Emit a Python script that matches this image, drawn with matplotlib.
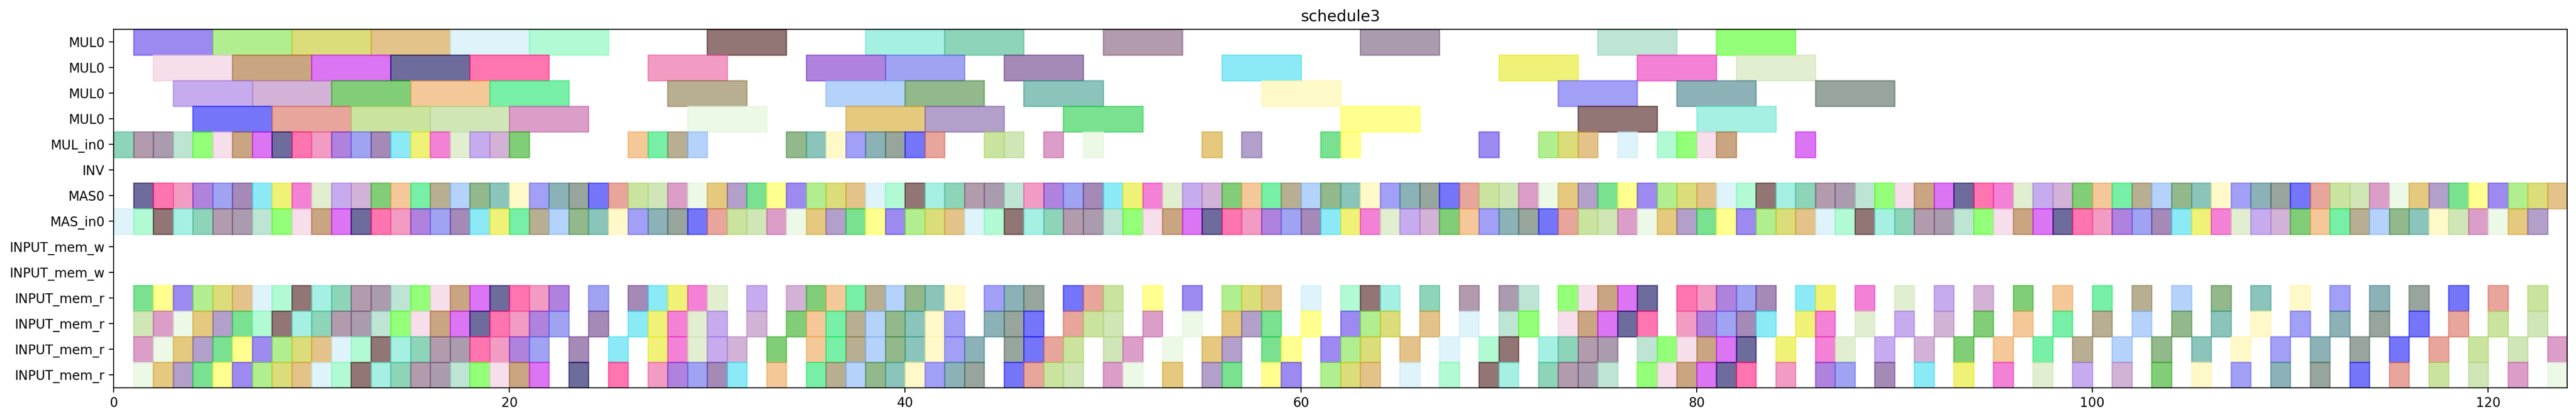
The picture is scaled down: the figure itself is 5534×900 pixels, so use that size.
import matplotlib
matplotlib.use("Agg")
import matplotlib.pyplot as plt

# ---------------------------------------------------------------------------
# Schedule data: start slot of every operation, per resource row
# ---------------------------------------------------------------------------
ROW_LABELS = ["MUL0", "MUL0", "MUL0", "MUL0", "MUL_in0", "INV", "MAS0", "MAS_in0",
              "INPUT_mem_w", "INPUT_mem_w",
              "INPUT_mem_r", "INPUT_mem_r", "INPUT_mem_r", "INPUT_mem_r"]

MUL0_A = [1, 5, 9, 13, 17, 21, 30, 38, 42, 50, 63, 75, 81]
MUL0_B = [2, 6, 10, 14, 18, 27, 35, 39, 45, 56, 70, 77, 82]
MUL0_C = [3, 7, 11, 15, 19, 28, 36, 40, 46, 58, 73, 79, 86]
MUL0_D = [4, 8, 12, 16, 20, 29, 37, 41, 48, 62, 74, 80]

MUL_IN0 = [0, 1, 2, 3, 4, 5, 6, 7, 8, 9, 10, 11, 12, 13, 14, 15, 16, 17, 18, 19, 20,
           26, 27, 28, 29, 34, 35, 36, 37, 38, 39, 40, 41, 44, 45, 47, 49, 55, 57,
           61, 62, 69, 72, 73, 74, 76, 78, 79, 80, 81, 85]

INV = []

MAS0 = [1, 2, 3, 4, 5, 6, 7, 8, 9, 10, 11, 12, 13, 14, 15, 16, 17, 18, 19, 20,
        21, 22, 23, 24, 25, 26, 27, 28, 29, 30, 31, 32, 33, 34, 35, 36, 37, 38, 39, 40,
        41, 42, 43, 44, 45, 46, 47, 48, 49, 50, 51, 52, 53, 54, 55, 56, 57, 58, 59, 60,
        61, 62, 63, 64, 65, 66, 67, 68, 69, 70, 71, 72, 73, 74, 75, 76, 77, 78, 79, 80,
        81, 82, 83, 84, 85, 86, 87, 88, 89, 90, 91, 92, 93, 94, 95, 96, 97, 98, 99, 100,
        101, 102, 103, 104, 105, 106, 107, 108, 109, 110, 111, 112, 113, 114, 115, 116,
        117, 118, 119, 120, 121, 122, 123]

MAS_IN0 = [0, 1, 2, 3, 4, 5, 6, 7, 8, 9, 10, 11, 12, 13, 14, 15, 16, 17, 18, 19,
           20, 21, 22, 23, 24, 25, 26, 27, 28, 29, 30, 31, 32, 33, 34, 35, 36, 37, 38, 39,
           40, 41, 42, 43, 44, 45, 46, 47, 48, 49, 50, 51, 52, 53, 54, 55, 56, 57, 58, 59,
           60, 61, 62, 63, 64, 65, 66, 67, 68, 69, 70, 71, 72, 73, 74, 75, 76, 77, 78, 79,
           80, 81, 82, 83, 84, 85, 86, 87, 88, 89, 90, 91, 92, 93, 94, 95, 96, 97, 98, 99,
           100, 101, 102, 103, 104, 105, 106, 107, 108, 109, 110, 111, 112, 113, 114, 115,
           116, 117, 118, 119, 120, 121, 122]

MEM_W_A = []
MEM_W_B = []

MEM_R_A = [1, 2, 3, 4, 5, 6, 7, 8, 9, 10, 11, 12, 13, 14, 15, 16, 17, 18, 19, 20, 21, 22,
           24, 26, 27, 28, 29, 30, 32, 34, 35, 36, 37, 38, 39, 40, 41, 42, 44, 45, 46,
           48, 49, 50, 52, 54, 56, 57, 58, 60, 62, 63, 64, 66, 68, 70, 71,
           73, 74, 75, 76, 77, 79, 80, 81, 82, 83, 85, 86, 88, 90, 92, 94, 96, 98,
           100, 102, 104, 106, 108, 110, 112, 114, 116, 118, 120, 122]
MEM_R_B = [1, 2, 3, 4, 5, 6, 7, 8, 9, 10, 11, 12, 13, 14, 15, 16, 17, 18, 19, 20, 21, 22,
           24, 26, 27, 28, 29, 30, 32, 34, 35, 36, 37, 38, 39, 40, 41, 42, 44, 45, 46,
           48, 49, 50, 52, 54, 56, 57, 58, 60, 62, 63, 64, 66, 68, 70, 71,
           73, 74, 75, 76, 77, 79, 80, 81, 82, 83, 85, 86, 88, 90, 92, 94, 96, 98,
           100, 102, 104, 106, 108, 110, 112, 114, 116, 118, 120, 122]
MEM_R_C = [1, 2, 3, 4, 5, 6, 7, 8, 9, 10, 11, 12, 13, 14, 15, 16, 17, 18, 19, 20, 21,
           23, 25, 27, 28, 29, 30, 31, 33, 35, 36, 37, 38, 39, 40, 41, 42, 43,
           45, 46, 47, 48, 50, 51, 53, 55, 56, 58, 59, 61, 62, 63, 65, 67, 69, 70,
           72, 73, 74, 75, 77, 78, 79, 80, 81, 82, 84, 86, 87, 89, 91, 93, 95, 97, 99,
           101, 103, 105, 107, 109, 111, 113, 115, 117, 119, 121, 123]
MEM_R_D = [1, 2, 3, 4, 5, 6, 7, 8, 9, 10, 11, 12, 13, 14, 15, 16, 17, 18, 19, 20, 21,
           23, 25, 27, 28, 29, 30, 31, 33, 35, 36, 37, 38, 39, 40, 41, 42, 43,
           45, 46, 47, 48, 50, 51, 53, 55, 56, 58, 59, 61, 62, 63, 65, 67, 69, 70,
           72, 73, 74, 75, 77, 78, 79, 80, 81, 82, 84, 86, 87, 89, 91, 93, 95, 97, 99,
           101, 103, 105, 107, 109, 111, 113, 115, 117, 119, 121, 123]

ROW_STARTS = [MUL0_A, MUL0_B, MUL0_C, MUL0_D, MUL_IN0, INV, MAS0, MAS_IN0,
              MEM_W_A, MEM_W_B, MEM_R_A, MEM_R_B, MEM_R_C, MEM_R_D]
ROW_DURATION = [4, 4, 4, 4, 1, 1, 1, 1, 1, 1, 1, 1, 1, 1]

X_MAX = 124

# mixed palette, drawn semi-transparent like the original
PALETTE = [
    "#5a3de8", "#7f5876", "#ea5a9e", "#b77fbf", "#6560f2", "#d4a52a", "#7df8b6",
    "#a86a2f", "#e6ea1f", "#83b5f7", "#a8d35f", "#7ee346", "#72587a", "#7a2fc8",
    "#2fad1e", "#3f7f88", "#7f5fa8", "#4a1a1a", "#c61aed", "#eb2fbb", "#4a8a3f",
    "#b2d688", "#c4c621", "#93d5b8", "#5f66ea", "#eda453", "#526a5a", "#21cd48",
    "#6ae6d1", "#0d0a5a", "#cfe3b2", "#3e9e8d", "#c35ea6", "#d19c3c", "#4dff1f",
    "#6a3c89", "#1fe56b", "#1a1af5", "#ffff46", "#43b88b", "#ff1a7c", "#a176e4",
    "#fff5a8", "#e0f5d8", "#c8ecf8", "#f0c8dc", "#3fdcf0", "#8a7a4a", "#d86a5a",
]
ALPHA = 0.6


def draw():
    fig = plt.figure(figsize=(27.67, 4.5), dpi=200)
    ax = fig.add_axes([0.0441, 0.0748, 0.9525, 0.8555])

    n_rows = len(ROW_LABELS)
    n_col = len(PALETTE)
    k = 0
    for i, (starts, dur) in enumerate(zip(ROW_STARTS, ROW_DURATION)):
        y = n_rows - 1 - i
        for s in starts:
            # scramble the palette order so neighbouring bars differ
            col = PALETTE[(k * 11 + (k // n_col) * 17) % n_col]
            ax.barh(y, dur, left=s, height=1.0, color=col, edgecolor=col,
                    linewidth=1.0, alpha=ALPHA)
            k += 1

    ax.set_xlim(0, X_MAX)
    ax.set_ylim(-0.5, n_rows - 0.5)
    ax.set_yticks(range(n_rows))
    ax.set_yticklabels(ROW_LABELS[::-1])
    ax.set_title("schedule3")

    fig.savefig("out.png", dpi=200)
    plt.close(fig)


if __name__ == "__main__":
    draw()
